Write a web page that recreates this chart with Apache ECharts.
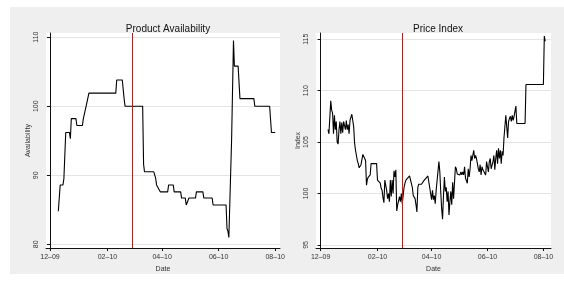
<!DOCTYPE html>
<html>
<head>
<meta charset="utf-8">
<script src="https://cdn.jsdelivr.net/npm/echarts@6/dist/echarts.min.js"></script>
<style>
  body { margin: 0; background: #fff; }
  #wrap { position: relative; width: 564px; height: 283px; }
  #bg { position: absolute; left: 10px; top: 7px; width: 554px; height: 267px; background: #efefef; }
  #main { position: absolute; left: 0; top: 0; width: 564px; height: 283px; }
</style>
</head>
<body>
<div id="wrap">
  <div id="bg"></div>
  <div id="main"></div>
</div>
<script>
// x values are days counted from 1 Dec 2009
const dateTickDay = [0, 62, 121, 182, 243];
const dateTickLabel = ["12\u201309", "02\u201310", "04\u201310", "06\u201310", "08\u201310"];
const breakDay = 89;

const availDay = [9, 10, 11, 14, 15, 16, 17, 21, 22, 23, 28, 29, 35, 36, 37, 39, 40, 42, 71, 72, 78, 80, 81,
  100, 101, 102, 112, 114, 115, 117, 119, 127, 128, 133, 134, 141, 142, 146, 147, 149, 150, 157, 158,
  165, 166, 175, 176, 190, 191, 192, 193, 195, 196, 197, 198, 199, 203, 205, 220, 221, 237, 239, 243];
const availValue = [84.8, 84.8, 88.6, 88.6, 89.5, 89.5, 96.2, 96.2, 95.3, 98.2, 98.2, 97.2, 97.2, 98.2, 98.2, 100, 100, 101.9, 101.9, 103.8, 103.8, 101.1, 100,
  100, 91.6, 90.5, 90.5, 89.6, 88.6, 88.6, 87.6, 87.6, 88.6, 88.6, 87.6, 87.6, 86.7, 86.7, 85.7, 85.7, 86.7, 86.7, 87.6,
  87.6, 86.7, 86.7, 85.7, 85.7, 82.3, 81.9, 81.0, 81.0, 95.3, 95.3, 109.5, 105.8, 105.8, 101.1, 101.1, 100, 100, 96.2, 96.2];

const priceDay = [8, 9, 11, 12, 13, 14, 15, 16, 17, 18, 19, 20, 21, 22, 23, 24, 25, 27, 28, 29, 30, 31, 32, 34, 36, 37, 38,
  40, 41, 42, 44, 45, 46, 47, 49, 50, 51, 52, 54, 55, 61, 62, 64, 65, 66, 67, 68, 69, 70, 72, 73, 74, 75, 76, 77, 78, 79,
  80, 81, 82, 83, 84, 85, 86, 87, 88, 89, 91, 92, 93, 94, 95, 97, 99, 100, 101, 103, 104, 105, 106, 107, 108, 110, 112,
  113, 114, 115, 116, 117, 119, 121, 122, 123, 124, 125, 126, 127, 129, 130, 131, 132, 133, 134, 135, 136, 137, 138, 139,
  140, 141, 142, 143, 144, 145, 147, 148, 149, 150, 151, 152, 153, 154, 155, 156, 157, 158, 160, 161, 162, 163, 164, 165,
  167, 168, 169, 170, 171, 172, 173, 174, 175, 176, 177, 179, 180, 181, 182, 183, 184, 185, 186, 188, 189, 190, 191, 192,
  193, 194, 195, 196, 197, 198, 199, 200, 202, 203, 204, 205, 206, 207, 208, 209, 210, 211, 213, 214, 223, 224, 243, 244, 245];
const priceValue = [106.2, 105.8, 109.0, 108.1, 107.8, 105.8, 107.6, 106.2, 107.0, 105.0, 104.8, 106.2, 107.0, 105.8, 106.9, 105.9, 107.0, 106.2, 107.1, 106.2, 106.7, 105.8, 107.1, 107.7, 106.5, 104.9, 104.2,
  103.2, 102.9, 102.5, 102.8, 103.3, 103.8, 103.7, 103.2, 100.8, 101.4, 101.6, 101.8, 102.9, 102.9, 101.3, 101.3, 101.0, 100.5, 100.3, 99.6, 99.1, 101.3, 100.3, 99.5, 100.0, 99.2, 101.3, 99.7, 101.3, 100.0,
  102.2, 101.6, 102.3, 98.3, 98.9, 99.0, 99.7, 99.2, 100.0, 99.0, 100.6, 101.0, 101.3, 101.4, 101.3, 101.7, 101.7, 100.6, 99.8, 99.5, 98.9, 98.2, 100.6, 100.9, 100.9, 100.9, 101.0,
  101.3, 101.3, 101.5, 101.4, 101.7, 101.8, 99.4, 100.3, 99.4, 99.8, 99.0, 100.3, 100.2, 103.1, 102.1, 100.2, 98.5, 97.5, 99.8, 101.6, 100.2, 100.6, 99.2, 100.2,
  97.9, 99.2, 100.2, 98.9, 101.1, 99.5, 102.6, 102.4, 101.9, 101.8, 101.9, 101.8, 102.1, 101.8, 102.1, 101.8, 102.6, 101.5, 101.0, 102.4, 101.6, 102.4, 103.7, 103.2,
  104.2, 103.4, 103.7, 103.4, 102.9, 102.4, 102.1, 102.8, 101.8, 102.6, 102.3, 102.4, 101.8, 103.1, 102.6, 102.1, 103.1, 103.4, 102.4, 103.1, 103.7, 102.3, 103.4, 104.2,
  102.9, 104.4, 103.4, 104.2, 102.9, 104.1, 103.7, 105.4, 107.6, 106.5, 105.4, 107.0, 107.3, 107.5, 107.0, 107.6, 107.1, 107.5, 108.5, 106.8, 106.8, 110.6, 110.6, 115.3, 114.8];

const availTicks = [80, 90, 100, 110];
const priceTicks = [95, 100, 105, 110, 115];

const font = "'Liberation Sans', Arial, sans-serif";
const txt = "#333";

function pairs(xs, ys) {
  return xs.map((x, i) => [x, ys[i]]);
}

function xAxisFor(idx, min, max) {
  return {
    type: "value",
    gridIndex: idx,
    min: min,
    max: max,
    name: "Date",
    nameLocation: "middle",
    nameGap: 11,
    nameTextStyle: { fontSize: 7, color: txt, fontFamily: font },
    axisLine: { lineStyle: { color: "#111", width: 1 } },
    axisTick: { customValues: dateTickDay, length: 3, lineStyle: { color: "#111" } },
    axisLabel: {
      customValues: dateTickDay,
      margin: 6,
      fontSize: 7,
      color: txt,
      fontFamily: font,
      formatter: (v) => dateTickLabel[dateTickDay.indexOf(v)],
    },
    splitLine: { show: false },
  };
}

function yAxisFor(idx, min, max, ticks, name) {
  return {
    type: "value",
    gridIndex: idx,
    min: min,
    max: max,
    name: name,
    nameLocation: "middle",
    nameGap: 14,
    nameTextStyle: { fontSize: 7, color: txt, fontFamily: font },
    axisLine: { show: true, lineStyle: { color: "#111", width: 1 } },
    axisTick: { show: true, customValues: ticks, length: 3, lineStyle: { color: "#111" } },
    axisLabel: {
      customValues: ticks,
      rotate: 90,
      margin: 6,
      fontSize: 7,
      color: txt,
      fontFamily: font,
    },
    splitLine: { show: true, lineStyle: { color: "#e4e4e4", width: 1 } },
  };
}

function redLine() {
  return {
    silent: true,
    symbol: "none",
    label: { show: false },
    lineStyle: { color: "#ff0000", width: 1, type: "solid" },
    data: [{ xAxis: breakDay }],
  };
}

const chart = echarts.init(document.getElementById("main"));
chart.setOption({
  animation: false,
  backgroundColor: "transparent",
  title: [
    {
      text: "Product Availability",
      left: 163,
      top: 19,
      textAlign: "center",
      textStyle: { fontSize: 10, fontWeight: "normal", color: "#111", fontFamily: font },
    },
    {
      text: "Price Index",
      left: 433,
      top: 19,
      textAlign: "center",
      textStyle: { fontSize: 10, fontWeight: "normal", color: "#111", fontFamily: font },
    },
  ],
  grid: [
    { left: 46, top: 33, width: 234, height: 215, show: true, backgroundColor: "#fff", borderWidth: 0, containLabel: false },
    { left: 316, top: 33, width: 235, height: 215, show: true, backgroundColor: "#fff", borderWidth: 0, containLabel: false },
  ],
  xAxis: [xAxisFor(0, -4.3, 248.2), xAxisFor(1, -5.1, 251.3)],
  yAxis: [
    yAxisFor(0, 79.47, 110.6, availTicks, "Availability"),
    yAxisFor(1, 94.7, 115.6, priceTicks, "Index"),
  ],
  series: [
    {
      name: "Availability",
      type: "line",
      xAxisIndex: 0,
      yAxisIndex: 0,
      data: pairs(availDay, availValue),
      showSymbol: false,
      lineStyle: { color: "#000", width: 1.1 },
      markLine: redLine(),
    },
    {
      name: "Index",
      type: "line",
      xAxisIndex: 1,
      yAxisIndex: 1,
      data: pairs(priceDay, priceValue),
      showSymbol: false,
      lineStyle: { color: "#000", width: 1.1 },
      markLine: redLine(),
    },
  ],
});
</script>
</body>
</html>
